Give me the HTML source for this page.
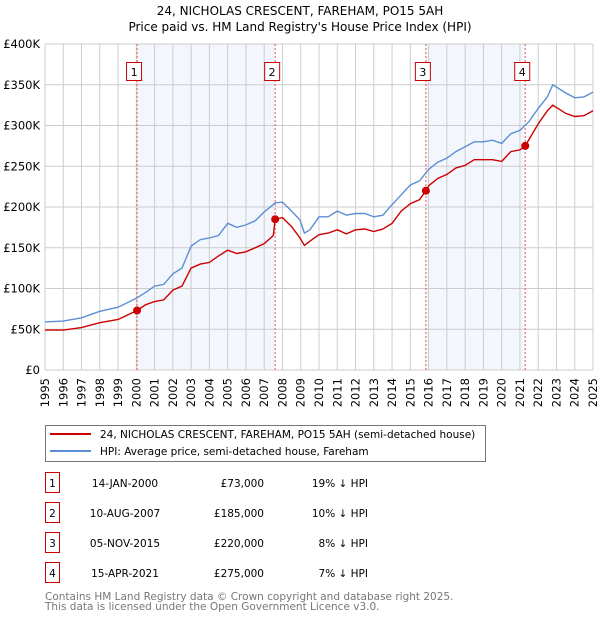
<!DOCTYPE html>
<html><head><meta charset="utf-8"><style>
body{margin:0;background:#fff;font-family:"DejaVu Sans","Liberation Sans",sans-serif;}
svg text{font-family:"DejaVu Sans","Liberation Sans",sans-serif;}
</style></head><body>
<svg id="chart" width="600" height="620" xmlns="http://www.w3.org/2000/svg">
<text x="300" y="15" text-anchor="middle" font-size="12">24, NICHOLAS CRESCENT, FAREHAM, PO15 5AH</text>
<text x="300" y="31" text-anchor="middle" font-size="12">Price paid vs. HM Land Registry's House Price Index (HPI)</text>
<g id="shade"></g><g id="grid"></g><g id="axes"></g><g id="series"></g><g id="markers"></g>
<g>
<rect x="45.5" y="425.5" width="440" height="36" fill="#fff" stroke="#777"/>
<line x1="50" y1="434" x2="91" y2="434" stroke="#cc0000" stroke-width="2"/>
<text x="100" y="438" font-size="10.5">24, NICHOLAS CRESCENT, FAREHAM, PO15 5AH (semi-detached house)</text>
<line x1="50" y1="451" x2="91" y2="451" stroke="#5b8fd4" stroke-width="2"/>
<text x="100" y="455" font-size="10.5">HPI: Average price, semi-detached house, Fareham</text>
</g>
<g id="table" font-size="10.5"></g>
<text x="45" y="600" font-size="10.5" fill="#777">Contains HM Land Registry data © Crown copyright and database right 2025.</text>
<text x="45" y="610" font-size="10.5" fill="#777">This data is licensed under the Open Government Licence v3.0.</text>
</svg>
<script>
const hpiYears=[1995,1996,1997,1998,1999,2000,2000.5,2001,2001.5,2002,2002.5,2003,2003.5,2004,2004.5,2005,2005.5,2006,2006.5,2007,2007.6,2008,2008.5,2008.96,2009.2,2009.5,2010,2010.5,2011,2011.5,2012,2012.5,2013,2013.5,2014,2014.5,2015,2015.5,2016,2016.5,2017,2017.5,2018,2018.5,2019,2019.5,2020,2020.5,2021,2021.5,2022,2022.5,2022.8,2023.5,2024,2024.5,2025];
const hpiValues=[59,60,64,72,77,88,95,103,105,118,125,152,160,162,165,180,175,178,183,194,205,206,195,184,168,172,188,188,195,190,192,192,188,190,203,215,227,232,246,255,260,268,274,280,280,282,278,290,294,305,321,335,350,340,334,335,341];
const propYears=[1995,1996,1997,1998,1999,2000.04,2000.5,2001,2001.5,2002,2002.5,2003,2003.5,2004,2004.5,2005,2005.5,2006,2006.5,2007,2007.5,2007.6,2008,2008.5,2008.96,2009.2,2009.5,2010,2010.5,2011,2011.5,2012,2012.5,2013,2013.5,2014,2014.5,2015,2015.5,2015.85,2016,2016.5,2017,2017.5,2018,2018.5,2019,2019.5,2020,2020.5,2021,2021.29,2021.5,2022,2022.5,2022.8,2023.5,2024,2024.5,2025];
const propValues=[49,49,52,58,62,73,80,84,86,98,103,125,130,132,140,147,143,145,150,155,165,185,187,176,162,153,158,166,168,172,167,172,173,170,173,180,195,204,209,220,226,235,240,248,251,258,258,258,256,268,270,275,283,302,318,325,315,311,312,318];
const saleYears=[2000.04,2007.6,2015.85,2021.29];
const salePrices=[73,185,220,275];
const saleLabels=["1","2","3","4"];
const saleDates=["14-JAN-2000","10-AUG-2007","05-NOV-2015","15-APR-2021"];
const salePriceText=["£73,000","£185,000","£220,000","£275,000"];
const saleDiff=["19% ↓ HPI","10% ↓ HPI","8% ↓ HPI","7% ↓ HPI"];
const yTicks=[0,50,100,150,200,250,300,350,400];
const yTickLabels=["£0","£50K","£100K","£150K","£200K","£250K","£300K","£350K","£400K"];
const xTicks=[1995,1996,1997,1998,1999,2000,2001,2002,2003,2004,2005,2006,2007,2008,2009,2010,2011,2012,2013,2014,2015,2016,2017,2018,2019,2020,2021,2022,2023,2024,2025];

const NS="http://www.w3.org/2000/svg";
const X0=45,X1=593,Y0=370,Y1=44;
const xs=y=>X0+(y-1995)/30*(X1-X0);
const ys=v=>Y0-v/400*(Y0-Y1);
function mk(tag,parent,attrs){const e=document.createElementNS(NS,tag);for(const k in attrs)e.setAttribute(k,attrs[k]);parent.appendChild(e);return e;}
const shade=document.getElementById('shade'),grid=document.getElementById('grid'),axes=document.getElementById('axes'),series=document.getElementById('series'),markers=document.getElementById('markers'),table=document.getElementById('table');
for(let i=0;i<saleYears.length;i+=2){
 const r=mk('rect',shade,{x:xs(saleYears[i]),y:Y1,width:xs(saleYears[i+1])-xs(saleYears[i]),height:Y0-Y1,fill:'#f3f6fd'});
 
 
}
yTicks.forEach((t,i)=>{
 const l=mk('line',grid,{x1:X0,x2:X1,y1:ys(t),y2:ys(t),stroke:'#ccc'});
 
 
 const tx=mk('text',axes,{x:40,y:ys(t)+4,'text-anchor':'end','font-size':'11.5'});
 tx.textContent=yTickLabels[i];
 
 
});
xTicks.forEach(t=>{
 const l=mk('line',grid,{x1:xs(t),x2:xs(t),y1:Y1,y2:Y0,stroke:'#ccc'});
 
 
 const tx=mk('text',axes,{x:0,y:0,'text-anchor':'end','font-size':'11.5',transform:`translate(${xs(t)+4},${Y0+8}) rotate(-90)`});
 tx.textContent=t;
 
 
});
saleYears.forEach((y,i)=>{
 const l=mk('line',grid,{x1:xs(y),x2:xs(y),y1:Y1,y2:Y0,stroke:'#e55','stroke-dasharray':'2,2'});
 
 
});
function path(xa,va,color,name){
 const d=xa.map((x,i)=>(i?'L':'M')+xs(x).toFixed(1)+','+ys(va[i]).toFixed(1)).join('');
 const p=mk('path',series,{d:d,fill:'none',stroke:color,'stroke-width':1.4});
 
 
}
path(hpiYears,hpiValues,'#5b8fd4','hpi-line');
path(propYears,propValues,'#cc0000','property-price-line');
saleYears.forEach((y,i)=>{
 const c=mk('circle',markers,{cx:xs(y),cy:ys(salePrices[i]),r:4,fill:'#cc0000'});
 
 
 const bx=xs(y)-8;
 const g=mk('g',markers,{});
 
 
 mk('rect',g,{x:bx-2.5,y:62.5,width:15,height:18,fill:'#fff',stroke:'#cc0000'});
 const t=mk('text',g,{x:bx+5,y:76,'text-anchor':'middle','font-size':'11'});t.textContent=saleLabels[i];
 const ty=483+i*30;
 const r=mk('g',table,{});
 
 
 mk('rect',r,{x:45.5,y:ty-10.5,width:14,height:20,fill:'#fff',stroke:'#cc0000'});
 let a=mk('text',r,{x:52.5,y:ty+4,'text-anchor':'middle'});a.textContent=saleLabels[i];
 a=mk('text',r,{x:125,y:ty+4,'text-anchor':'middle'});a.textContent=saleDates[i];
 a=mk('text',r,{x:264,y:ty+4,'text-anchor':'end'});a.textContent=salePriceText[i];
 a=mk('text',r,{x:368,y:ty+4,'text-anchor':'end'});a.textContent=saleDiff[i];
});
</script>
</body></html>
